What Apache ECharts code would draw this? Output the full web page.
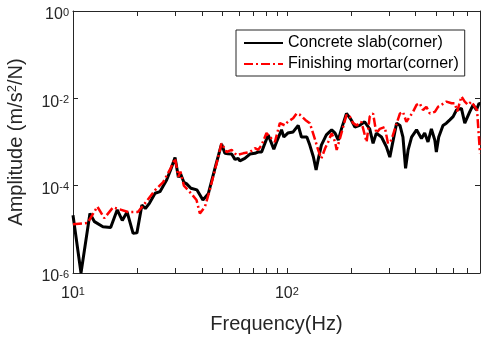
<!DOCTYPE html>
<html>
<head>
<meta charset="utf-8">
<script src="https://cdn.jsdelivr.net/npm/echarts@6/dist/echarts.min.js"></script>
<style>html,body{margin:0;padding:0;background:#fff;}#c{width:481px;height:339px;}</style>
</head>
<body>
<div id="c"></div>
<script>
var freqConcrete = [10,10.9,12.0,12.6,13.8,15.0,16.1,17.0,17.9,19.1,19.9,21.0,21.8,22.8,24.2,25.5,27.4,28.6,30.0,31.1,31.8,33.0,34.0,35.6,38.0,40.5,42.9,46.1,49.5,51.3,53.0,55.2,57.2,59.2,60.3,63.6,67.2,70.9,73.4,76.2,78.9,81.8,84.8,86.9,89.5,94.4,96.8,101,107,113,117,124,128,133,137,140,145,153,162,168,174,180,190,200,208,219,231,244,253,262,277,292,303,312,326,338,349,359,369,383,404,426,441,457,474,492,500,513,537,557,578,599,621,655,679,716,743,770,792,800];
var ampConcrete = [2.1e-5,1.0e-6,2.3e-5,1.5e-5,1.15e-5,1.1e-5,2.8e-5,1.6e-5,2.5e-5,8.1e-6,8.3e-6,3.6e-5,3.0e-5,4.0e-5,6.7e-5,7.3e-5,1.35e-4,2.3e-4,4.4e-4,1.55e-4,1.9e-4,1.2e-4,1.1e-4,8.7e-5,8.0e-5,4.7e-5,6.5e-5,2.5e-4,9.0e-4,5.5e-4,5.4e-4,5.3e-4,4.0e-4,4.2e-4,3.7e-4,4.2e-4,5.3e-4,5.5e-4,5.9e-4,5.9e-4,9.3e-4,1.45e-3,9.3e-4,6.8e-4,1.0e-3,1.9e-3,1.3e-3,1.6e-3,1.7e-3,2.4e-3,1.3e-3,1.3e-3,8.5e-4,4.6e-4,2.3e-4,3.9e-4,8.5e-4,1.45e-3,1.9e-3,1.6e-3,1.1e-3,2.0e-3,4.5e-3,3.2e-3,2.2e-3,2.4e-3,2.9e-3,2.0e-3,9.3e-4,1.6e-3,1.3e-3,7.8e-4,4.5e-4,9.3e-4,2.7e-3,2.4e-3,1.3e-3,2.5e-4,6.6e-4,1.3e-3,1.9e-3,1.2e-3,1.6e-3,1.0e-3,2.0e-3,1.1e-3,5.9e-4,1.3e-3,2.4e-3,2.7e-3,3.2e-3,3.8e-3,5.4e-3,5.9e-3,2.7e-3,4.9e-3,7.1e-3,5.4e-3,7.7e-3,7.5e-3];
var freqMortar = [10,11.7,13.0,14.0,15.4,18.1,20.1,22.0,24.2,26.4,28.6,30.0,31.1,31.8,33.0,35.6,37.8,39.2,41.4,43.6,46.9,49.5,52.3,55.2,58.2,62.5,67.2,70.9,73.4,76.2,80.3,84.8,87.9,92.7,97.9,101,107,111,115,122,128,135,140,145,151,156,162,168,171,177,190,197,204,212,223,236,244,253,262,272,287,297,308,320,338,349,362,376,389,404,418,433,449,466,492,509,528,557,589,610,626,655,679,703,729,756,775,800];
var ampMortar = [1.3e-5,1.4e-5,3.3e-5,1.8e-5,3.2e-5,2.5e-5,2.5e-5,4.3e-5,7.9e-5,1.2e-4,2.5e-4,4.2e-4,1.6e-4,2.1e-4,1.0e-4,6.7e-5,4.7e-5,2.3e-5,3.3e-5,7.9e-5,3.2e-4,9.3e-4,5.9e-4,6.6e-4,5.0e-4,5.5e-4,5.9e-4,7.2e-4,6.6e-4,8.5e-4,1.6e-3,1.2e-3,1.0e-3,2.7e-3,2.4e-3,2.9e-3,3.5e-3,4.5e-3,4.2e-3,3.2e-3,2.7e-3,1.2e-3,6.6e-4,4.2e-4,7.2e-4,1.0e-3,1.6e-3,1.0e-3,6.6e-4,1.2e-3,4.2e-3,3.8e-3,2.7e-3,2.4e-3,2.9e-3,1.0e-3,3.8e-3,4.5e-3,1.6e-3,2.0e-3,2.2e-3,9.3e-4,1.1e-3,2.0e-3,4.5e-3,4.9e-3,2.9e-3,3.8e-3,4.9e-3,7.1e-3,7.7e-3,5.4e-3,6.4e-3,4.5e-3,4.9e-3,6.4e-3,7.1e-3,8.4e-3,7.7e-3,7.7e-3,5.0e-3,1.1e-2,8.4e-3,7.1e-3,8.4e-3,6.4e-3,5.4e-3,5.5e-4];
var xTickValues = [10,20,30,40,50,60,70,80,90,100,200,300,400,500,600,700,800];
var xLabelValues = [10,100];
var yTickValues = [1e-6,1e-4,1e-2,1];

var seriesNames = ['Concrete slab(corner)','Finishing mortar(corner)'];

function zip(a,b){ var r=[]; for(var i=0;i<a.length;i++) r.push([a[i],b[i]]); return r; }
var FONT = 'Liberation Sans, Arial, sans-serif';
var INK = '#262626';
function powLabel(v){
  var e = Math.log(v)/Math.LN10;
  var r = Math.round(e);
  if (Math.abs(e-r) > 1e-6) return '';
  return '{b|10}{s|' + r + '}';
}
var richLab = {
  b: {fontSize: 16, fontFamily: FONT, color: INK, lineHeight: 16, verticalAlign: 'bottom', padding: [3,0,0,0]},
  s: {fontSize: 11, fontFamily: FONT, color: INK, lineHeight: 11, verticalAlign: 'top'}
};
var tickCommon = {show: true, inside: true, length: 5, lineStyle: {color: INK, width: 1}};
var lineCommon = {show: true, onZero: false, lineStyle: {color: INK, width: 1}};

var chart = echarts.init(document.getElementById('c'), null, {renderer: 'canvas'});
chart.setOption({
  animation: false,
  backgroundColor: '#fff',
  grid: {left: 73, right: 1, top: 11, bottom: 66, containLabel: false, outerBoundsMode: 'none'},
  legend: {
    show: true, orient: 'vertical', left: 236, top: 30,
    data: seriesNames,
    itemWidth: 39, itemHeight: 14, itemGap: 5,
    padding: [5, 6, 4, 7],
    itemStyle: {opacity: 0},
    borderColor: INK, borderWidth: 1, backgroundColor: '#fff',
    textStyle: {fontSize: 16, fontFamily: FONT, color: '#000'}
  },
  xAxis: [{
    type: 'log', logBase: 10, min: 10, max: 800,
    name: 'Frequency(Hz)', nameLocation: 'middle', nameGap: 41,
    nameTextStyle: {fontSize: 20, fontFamily: FONT, color: INK},
    axisLine: lineCommon,
    axisTick: Object.assign({customValues: xTickValues}, tickCommon),
    axisLabel: {customValues: xLabelValues, formatter: powLabel, rich: richLab, margin: 13},
    splitLine: {show: false}, minorTick: {show: false}
  }, {
    type: 'log', logBase: 10, min: 10, max: 800, position: 'top',
    axisLine: lineCommon,
    axisTick: Object.assign({customValues: xTickValues}, tickCommon),
    axisLabel: {show: false}, splitLine: {show: false}
  }],
  yAxis: [{
    type: 'log', logBase: 10, min: 1e-6, max: 1,
    name: '{a|Amplitude (m/s}{s|2}{a|/N)}', nameLocation: 'middle', nameGap: 47, nameRotate: 90,
    nameTextStyle: {rich: {
      a: {fontSize: 20, fontFamily: FONT, color: INK, lineHeight: 20, verticalAlign: 'bottom', padding: [4,0,0,0]},
      s: {fontSize: 13, fontFamily: FONT, color: INK, lineHeight: 13, verticalAlign: 'top'}
    }},
    axisLine: lineCommon,
    axisTick: Object.assign({customValues: yTickValues}, tickCommon),
    axisLabel: {customValues: yTickValues, formatter: powLabel, rich: richLab, margin: 4, padding: [8,0,0,0]},
    splitLine: {show: false}
  }, {
    type: 'log', logBase: 10, min: 1e-6, max: 1, position: 'right',
    axisLine: lineCommon,
    axisTick: Object.assign({customValues: yTickValues}, tickCommon),
    axisLabel: {show: false}, splitLine: {show: false}
  }],
  series: [{
    name: seriesNames[0], type: 'line', xAxisIndex: 0, yAxisIndex: 0,
    data: zip(freqConcrete, ampConcrete), symbol: 'none', smooth: false,
    lineStyle: {color: '#000', width: 3, type: 'solid'},
    itemStyle: {color: '#000'}, clip: true, z: 2
  }, {
    name: seriesNames[1], type: 'line', xAxisIndex: 0, yAxisIndex: 0,
    data: zip(freqMortar, ampMortar), symbol: 'none', smooth: false,
    lineStyle: {color: '#ff0000', width: 2.5, type: [9, 3, 2, 3]},
    itemStyle: {color: '#ff0000'}, clip: true, z: 3
  }]
});
</script>
</body>
</html>
